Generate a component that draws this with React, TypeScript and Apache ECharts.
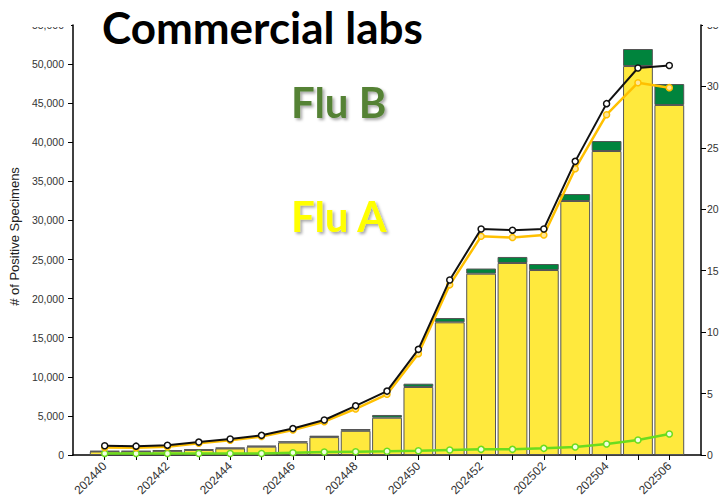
import React, { useEffect, useRef } from "react";
import * as echarts from "echarts";

const weeks = [
  "202440", "202441", "202442", "202443", "202444", "202445", "202446",
  "202447", "202448", "202449", "202450", "202451", "202452", "202501",
  "202502", "202503", "202504", "202505", "202506",
];

const fluACounts = [
  450, 450, 530, 645, 840, 1070, 1600, 2290, 3095, 4770, 8700, 16970,
  23190, 24560, 23660, 32490, 38880, 49750, 44770,
];

const fluBCounts = [
  60, 60, 70, 80, 100, 120, 150, 180, 230, 350, 420, 550, 660, 770, 770,
  890, 1280, 2180, 2680,
];

const totalPct = [
  0.75, 0.72, 0.8, 1.05, 1.3, 1.6, 2.15, 2.85, 4.0, 5.2, 8.6, 14.25, 18.4,
  18.3, 18.4, 23.9, 28.6, 31.5, 31.7,
];

const fluAPct = [
  0.62, 0.6, 0.68, 0.95, 1.2, 1.5, 2.03, 2.71, 3.75, 4.94, 8.25, 13.85,
  17.8, 17.7, 17.9, 23.3, 27.7, 30.3, 29.9,
];

const fluBPct = [
  0.13, 0.12, 0.12, 0.12, 0.12, 0.12, 0.19, 0.24, 0.27, 0.3, 0.35, 0.41,
  0.46, 0.46, 0.54, 0.65, 0.9, 1.22, 1.71,
];

const AX = "Liberation Sans, Arial, sans-serif";
const CAL = "Lato, 'Open Sans', sans-serif";

export default function App() {
  const ref = useRef<HTMLDivElement>(null);

  useEffect(() => {
    if (!ref.current) return;
    document.body.style.margin = "0";
    const chart = echarts.init(ref.current, undefined, { renderer: "svg" });

    const barBorder = { borderColor: "#555", borderWidth: 1 };
    const shadow = {
      textShadowColor: "rgba(0,0,0,0.35)",
      textShadowBlur: 3,
      textShadowOffsetX: 2,
      textShadowOffsetY: 2,
    };

    chart.setOption({
      animation: false,
      backgroundColor: "#fff",
      grid: [
        { left: 89, right: 38, top: 25, bottom: 46 },
        { left: 73, right: 22, top: 25, bottom: 46 },
      ],
      xAxis: [
        {
          type: "category",
          gridIndex: 0,
          data: weeks,
          axisLine: { show: false },
          axisTick: {
            show: true,
            alignWithLabel: true,
            interval: 0,
            length: 5,
            lineStyle: { color: "#000", width: 1 },
          },
          axisLabel: {
            interval: 1,
            rotate: 45,
            fontSize: 12,
            fontFamily: AX,
            color: "#333",
            margin: 9,
          },
          splitLine: { show: false },
        },
        {
          type: "value",
          gridIndex: 1,
          min: 0,
          max: 1,
          axisLine: { show: true, onZero: false, lineStyle: { color: "#000", width: 1.5 } },
          axisTick: { show: false },
          axisLabel: { show: false },
          splitLine: { show: false },
        },
      ],
      yAxis: [
        {
          type: "value",
          gridIndex: 0,
          position: "left",
          offset: 16,
          min: 0,
          max: 55000,
          interval: 5000,
          name: "# of Positive Specimens",
          nameLocation: "middle",
          nameGap: 49,
          nameTextStyle: {
            fontSize: 13,
            fontFamily: AX,
            color: "#222",
            padding: [0, 0, 0, 7],
          },
          axisLine: { show: true, lineStyle: { color: "#000", width: 1.5 } },
          axisTick: { show: true, length: 5, lineStyle: { color: "#000" } },
          axisLabel: {
            fontSize: 10.5,
            fontFamily: AX,
            color: "#333",
            margin: 9,
            formatter: (v: number) => v.toLocaleString("en-US"),
          },
          splitLine: { show: false },
        },
        {
          type: "value",
          gridIndex: 0,
          position: "right",
          offset: 16,
          min: 0,
          max: 35,
          interval: 5,
          axisLine: { show: true, lineStyle: { color: "#000", width: 1.5 } },
          axisTick: { show: true, length: 5, lineStyle: { color: "#000" } },
          axisLabel: { fontSize: 10.5, fontFamily: AX, color: "#333", margin: 6 },
          splitLine: { show: false },
        },
        {
          type: "value",
          gridIndex: 1,
          show: false,
        },
      ],
      series: [
        {
          name: "Flu A",
          type: "bar",
          stack: "count",
          xAxisIndex: 0,
          yAxisIndex: 0,
          data: fluACounts,
          barCategoryGap: "5%",
          itemStyle: { color: "#FFE93D", ...barBorder },
        },
        {
          name: "Flu B",
          type: "bar",
          stack: "count",
          xAxisIndex: 0,
          yAxisIndex: 0,
          data: fluBCounts,
          barCategoryGap: "5%",
          itemStyle: { color: "#00843D", ...barBorder },
        },
        {
          name: "Flu B %",
          type: "line",
          xAxisIndex: 0,
          yAxisIndex: 1,
          data: fluBPct,
          symbol: "circle",
          symbolSize: 6,
          lineStyle: { color: "#6BDC1E", width: 2.5 },
          itemStyle: { color: "#F0FFE0", borderColor: "#6BDC1E", borderWidth: 1.5 },
          z: 5,
        },
        {
          name: "Flu A %",
          type: "line",
          xAxisIndex: 0,
          yAxisIndex: 1,
          data: fluAPct,
          symbol: "circle",
          symbolSize: 6,
          lineStyle: { color: "#FFC000", width: 2.5 },
          itemStyle: { color: "#FFE699", borderColor: "#FFC000", borderWidth: 1.5 },
          z: 6,
        },
        {
          name: "Total %",
          type: "line",
          xAxisIndex: 0,
          yAxisIndex: 1,
          data: totalPct,
          symbol: "circle",
          symbolSize: 6,
          lineStyle: { color: "#111", width: 2 },
          itemStyle: { color: "#fff", borderColor: "#111", borderWidth: 1.5 },
          z: 7,
        },
      ],
      graphic: [
        {
          type: "rect",
          z: 50,
          shape: { x: 0, y: 0, width: 71, height: 27 },
          style: { fill: "#fff" },
        },
        {
          type: "rect",
          z: 50,
          shape: { x: 703, y: 0, width: 20, height: 27 },
          style: { fill: "#fff" },
        },
        {
          type: "text",
          z: 60,
          x: 102,
          y: 26.5,
          style: {
            text: "Commercial labs",
            font: `bold 44px ${CAL}`,
            fill: "#000",
            textVerticalAlign: "middle",
          },
        },
        {
          type: "text",
          z: 60,
          x: 291,
          y: 102,
          style: {
            text: "Flu B",
            font: `bold 42px ${CAL}`,
            fill: "#548235",
            textVerticalAlign: "middle",
            ...shadow,
          },
        },
        {
          type: "text",
          z: 60,
          x: 291,
          y: 216,
          style: {
            text: "Flu A",
            font: `bold 42px ${CAL}`,
            fill: "#FFFF00",
            textVerticalAlign: "middle",
            ...shadow,
          },
        },
      ],
    });

    return () => chart.dispose();
  }, []);

  return <div ref={ref} style={{ width: 723, height: 501 }} />;
}
